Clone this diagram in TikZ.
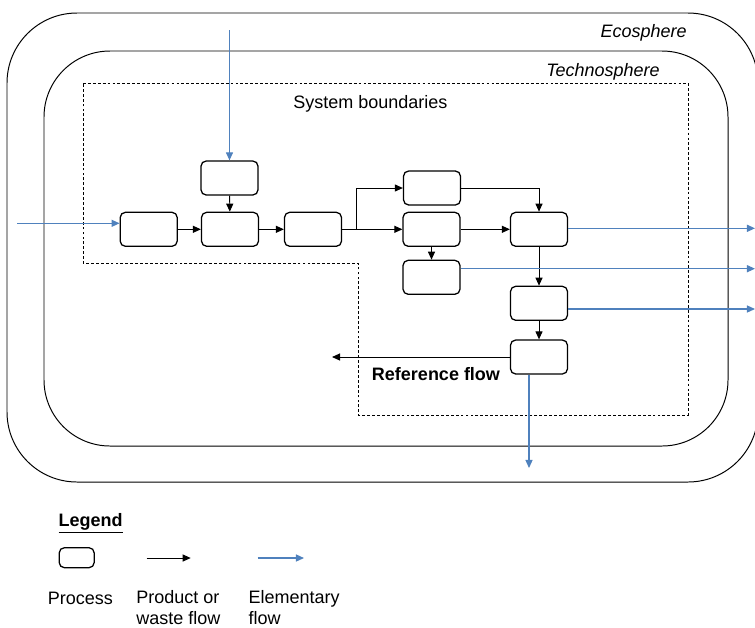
\documentclass[tikz,border=0pt]{standalone}
\usepackage{fontspec}
\setmainfont{Liberation Sans}
\usetikzlibrary{arrows.meta,calc,positioning}
\definecolor{flowblue}{RGB}{79,129,189}

\begin{document}
\begin{tikzpicture}[x=0.025cm,y=-0.025cm,
  font=\fontsize{12.8}{14.8}\selectfont,
  proc/.style={draw,line width=0.9pt,rounded corners=0.13cm,minimum width=1.425cm,minimum height=0.85cm,inner sep=0pt},
  prodflow/.style={line width=0.7pt,-{Triangle[length=5.7pt,width=5pt]}},
  elemflow/.style={flowblue,line width=0.8pt,-{Triangle[length=5.7pt,width=5pt]}},
  lbl/.style={inner sep=0pt}]
\clip (0,0) rectangle (755,627);
\draw[line width=0.7pt,rounded corners=1.75cm] (7,13) rectangle (758,482);
\draw[line width=0.7pt,rounded corners=1.65cm] (44,51) rectangle (728,446);
\draw[line width=0.6pt,dash pattern=on 2pt off 1.5pt] (83,83) -- (688,83) -- (688,415) -- (358,415) -- (358,263) -- (83,263) -- cycle;
\node[lbl,anchor=base east,font=\fontsize{12.8}{14.8}\selectfont\itshape] (eco) at (687,37) {Ecosphere};
\node[lbl,anchor=base east,font=\fontsize{12.8}{14.8}\selectfont\itshape] (techno) at (660,76) {Technosphere};
\node[lbl,anchor=base west] (sysb) at (293,108) {System boundaries};
% processes
\node[proc] (a) at (148.7,229.3) {};
\node[proc] (b) at (229.5,178) {};
\node[proc] (c) at (230,229.3) {};
\node[proc] (d) at (313,229.3) {};
\node[proc] (e) at (432,188) {};
\node[proc] (f) at (431.5,229.3) {};
\node[proc] (g) at (431.5,277.3) {};
\node[proc] (h) at (539,229.3) {};
\node[proc] (i) at (539,303.3) {};
\node[proc] (j) at (539,357) {};
% product flows
\draw[prodflow] (b) -- (c);
\draw[prodflow] (a) -- (c);
\draw[prodflow] (c) -- (d);
\draw[prodflow] (d) -- (f);
\draw[prodflow] (d.east) ++(14,0) |- (e.west);
\draw[prodflow] (f) -- (h);
\draw[prodflow] (f) -- (g);
\draw[prodflow] (e.east) -| (h.north);
\draw[prodflow] (h) -- (i);
\draw[prodflow] (i) -- (j);
\coordinate (refend) at (332,357);
\draw[prodflow] (j) -- (refend);
\node[lbl,anchor=base west,font=\fontsize{12.8}{14.8}\selectfont\bfseries] (ref) at (371.7,380) {Reference flow};
% elementary flows
\coordinate (topin) at (229.5,30);
\coordinate (leftin) at (17,223.3);
\coordinate (rightout) at (755,0);
\coordinate (downout) at (529,468);
\draw[elemflow] (topin) -- (b);
\draw[elemflow] (leftin) -- (leftin -| a.west);
\draw[elemflow] ($(h.east)+(0,-1)$) -- ($(h.east -| rightout)+(0,-1)$);
\draw[elemflow] ($(g.east)+(0,-8.6)$) -- ($(g.east -| rightout)+(0,-8.6)$);
\draw[elemflow] ($(i.east)+(0,5.7)$) -- ($(i.east -| rightout)+(0,5.7)$);
\draw[elemflow] (downout |- j.south) -- (downout);
% legend
\node[lbl,anchor=base west,font=\fontsize{12.8}{14.8}\selectfont\bfseries] (leg) at (58.3,526.7) {\underline{Legend}};
\node[proc,minimum width=0.875cm,minimum height=0.5cm] (lproc) at (76.7,557.7) {};
\coordinate (lprod1) at (146.7,558);
\coordinate (lprod2) at (190.7,558);
\coordinate (lelem1) at (257.7,558);
\coordinate (lelem2) at (304,558);
\draw[prodflow] (lprod1) -- (lprod2);
\draw[elemflow] (lelem1) -- (lelem2);
\node[lbl,anchor=base west] (tproc) at (47.7,604) {Process};
\node[lbl,anchor=base west,align=left] (tprod) at (136,624) {Product or\\waste flow};
\node[lbl,anchor=base west,align=left] (telem) at (248.3,624) {Elementary\\flow};
\end{tikzpicture}
\end{document}
